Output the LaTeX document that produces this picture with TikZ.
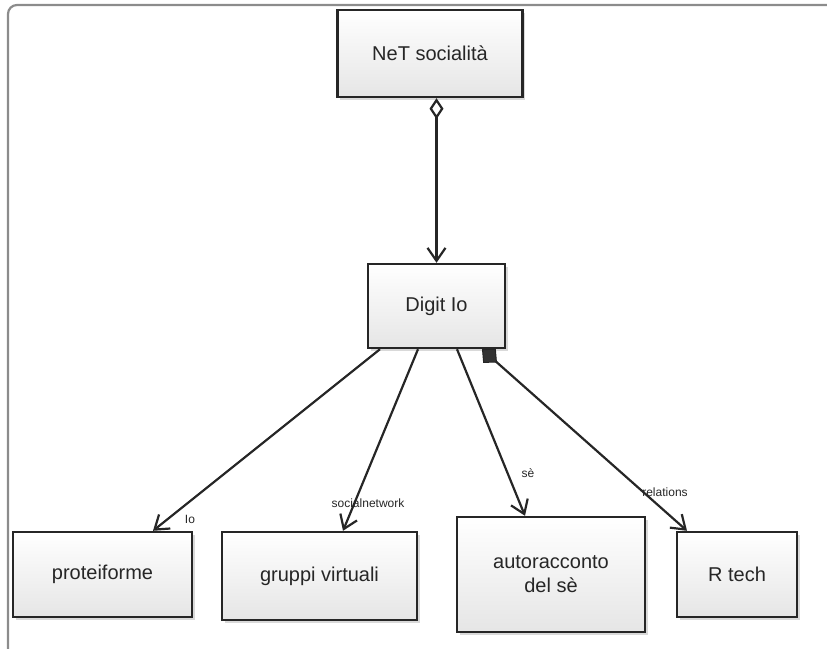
\documentclass[tikz,border=0pt]{standalone}
\usepackage{fontspec}
\setmainfont{Liberation Sans}
\usetikzlibrary{arrows.meta,shadows,calc}
\begin{document}
\begin{tikzpicture}[x=1pt,y=-1pt,
  vtip/.tip={Straight Barb[length=13pt,width=18pt,line width=2.2pt]},
  box/.style={draw=black!85,line width=2.4pt,top color=white,bottom color=black!10,
    drop shadow={opacity=0.3,shadow xshift=2.5pt,shadow yshift=-2.5pt},
    inner sep=0pt,align=center,font=\fontsize{20}{24}\selectfont,text=black!85},
  conn/.style={draw=black!85,line width=2.2pt,-vtip},
  lbl/.style={font=\fontsize{12}{14}\selectfont,text=black!85,inner sep=1pt},
  frame/.style={draw=black!45,line width=2.2pt,rounded corners=9pt}]
\useasboundingbox (0,0) rectangle (827,648);
\draw[frame] (8,660) -- (8,5) -- (840,5);
\node[box,minimum width=185pt,minimum height=87pt] (net) at (430,53.5) {NeT socialità};
\node[box,minimum width=137pt,minimum height=84pt] (digit) at (436.5,306) {Digit Io};
\node[box,minimum width=179pt,minimum height=85pt] (prot) at (102.5,574.5) {proteiforme};
\node[box,minimum width=195pt,minimum height=88pt] (grup) at (319.5,576) {gruppi virtuali};
\node[box,minimum width=188pt,minimum height=115pt] (auto) at (551,574.5) {autoracconto\\del sè};
\node[box,minimum width=120pt,minimum height=85pt] (rtech) at (737,574.5) {R tech};
\draw[conn,{Diamond[open,length=21pt,width=14pt,line width=2.2pt,fill=white]}-vtip] ($(net.south)+(6.5,0)$) -- (digit.north);
\draw[conn] ($(digit.south)+(-56.5,0)$) -- ($(prot.north)+(50.5,0)$);
\draw[conn] ($(digit.south)+(-18.5,0)$) -- ($(grup.north)+(23.5,0)$);
\draw[conn] ($(digit.south)+(20.5,0)$) -- ($(auto.north)+(-26,0)$);
\draw[conn,{Diamond[length=20pt,width=19pt,fill=black!80,line width=1pt]}-vtip] ($(digit.south)+(45.5,0)$) -- ($(rtech.north)+(-50,0)$);
\node[lbl] (l1) at (190,519) {Io};
\node[lbl] (l2) at (368,503) {socialnetwork};
\node[lbl] (l3) at (528,473) {sè};
\node[lbl] (l4) at (665,492) {relations};
\end{tikzpicture}
\end{document}
